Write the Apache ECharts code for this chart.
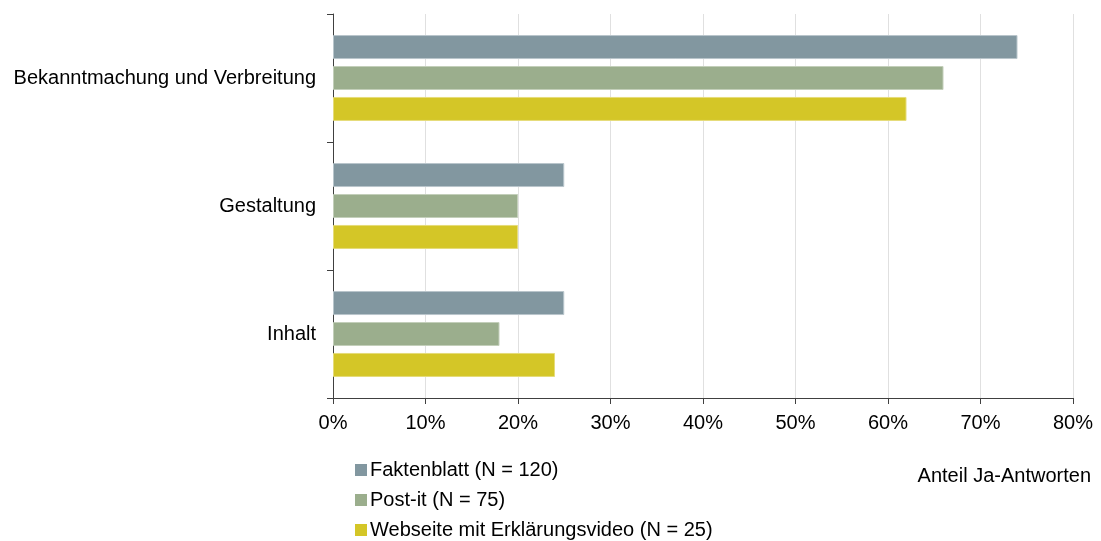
<!DOCTYPE html>
<html>
<head>
<meta charset="utf-8">
<script src="https://cdn.jsdelivr.net/npm/echarts@6/dist/echarts.min.js"></script>
<style>
  html, body { margin: 0; padding: 0; background: #fff; }
  #chart { width: 1101px; height: 541px; }
</style>
</head>
<body>
<div id="chart"></div>
<script>
// Categories, top to bottom
const categories = ['Bekanntmachung und Verbreitung', 'Gestaltung', 'Inhalt'];

// Share of "yes" answers in percent, per format
const faktenblatt = [74, 25, 25];
const postIt = [66, 20, 18];
const webseite = [62, 20, 24];

const seriesNames = ['Faktenblatt (N = 120)', 'Post-it (N = 75)', 'Webseite mit Erklärungsvideo (N = 25)'];
const seriesColors = ['#8297a0', '#9bae8d', '#d4c627'];
const seriesBorders = ['#b9c6cc', '#c3cfba', '#e6dc7a'];

const font = 'Liberation Sans, Arial, sans-serif';

const chart = echarts.init(document.getElementById('chart'));

const values = [faktenblatt, postIt, webseite];

chart.setOption({
  animation: false,
  textStyle: { fontFamily: font, color: '#000' },
  grid: { left: 333, right: 28, top: 14, bottom: 143, containLabel: false },
  xAxis: {
    type: 'value',
    min: 0,
    max: 80,
    interval: 10,
    axisLine: { show: true, lineStyle: { color: '#404040', width: 1 } },
    axisTick: { show: true, length: 6, lineStyle: { color: '#404040' } },
    axisLabel: { formatter: '{value}%', fontSize: 20, color: '#000', fontFamily: font, margin: 15 },
    splitLine: { show: true, lineStyle: { color: '#e0e0e0', width: 1 } }
  },
  yAxis: {
    type: 'category',
    data: categories,
    inverse: true,
    axisLine: { show: true, lineStyle: { color: '#404040', width: 1 } },
    axisTick: { show: true, length: 6, lineStyle: { color: '#404040' } },
    axisLabel: { fontSize: 20, color: '#000', fontFamily: font, margin: 17 },
    splitLine: { show: false }
  },
  legend: {
    orient: 'vertical',
    left: 355,
    top: 460,
    padding: 0,
    itemWidth: 12,
    itemHeight: 12,
    itemGap: 10,
    icon: 'rect',
    itemStyle: { borderWidth: 0 },
    textStyle: { fontSize: 20, color: '#000', fontFamily: font, padding: [0, 0, 0, -2] },
    data: seriesNames
  },
  graphic: [{
    type: 'text',
    right: 10,
    top: 466,
    style: { text: 'Anteil Ja-Antworten', fontSize: 20, fill: '#000', fontFamily: font }
  }],
  series: seriesNames.map((name, i) => ({
    name: name,
    type: 'bar',
    data: values[i],
    barWidth: 24,
    barGap: '29%',
    itemStyle: { color: seriesColors[i], borderColor: seriesBorders[i], borderWidth: 1 }
  }))
});
</script>
</body>
</html>
